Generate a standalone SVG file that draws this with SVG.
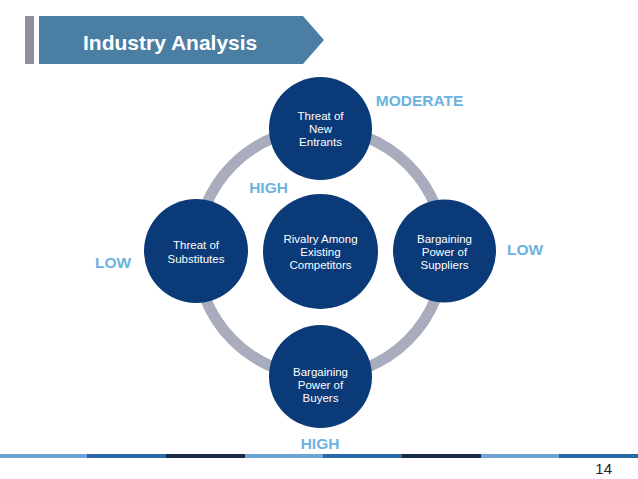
<svg xmlns="http://www.w3.org/2000/svg" width="638" height="479" viewBox="0 0 638 479">
<style>
.node{fill:#0b3a78}
.nt{fill:#ffffff;font-family:"Liberation Sans",Arial,sans-serif;font-size:11.5px;text-anchor:middle}
.lbl{fill:#6cb2df;font-family:"Liberation Sans",Arial,sans-serif;font-size:15.5px;font-weight:bold;text-anchor:middle}
</style>
<rect width="638" height="479" fill="#ffffff"/>
<g id="header">
<rect x="25" y="16" width="9" height="48" fill="#8b9099"/>
<polygon points="39,16 303,16 324,40 303,64 39,64" fill="#4a7ea3"/>
<text x="83" y="49.5" fill="#ffffff" font-family="'Liberation Sans',Arial,sans-serif" font-size="21" font-weight="bold">Industry Analysis</text>
</g>
<g id="connectors">
<circle cx="320.5" cy="252.5" r="124" fill="none" stroke="#a9acbd" stroke-width="11"/>
</g>
<g id="new-entrants">
<circle class="node" cx="320.5" cy="128.5" r="51.5"/>
<text class="nt" x="320.5" y="120">Threat of</text>
<text class="nt" x="320.5" y="133">New</text>
<text class="nt" x="320.5" y="146">Entrants</text>
</g>
<g id="substitutes">
<circle class="node" cx="196" cy="251" r="52"/>
<text class="nt" x="196" y="249">Threat of</text>
<text class="nt" x="196" y="263">Substitutes</text>
</g>
<g id="rivalry">
<circle class="node" cx="320.5" cy="251.5" r="57.5"/>
<text class="nt" x="320.5" y="243">Rivalry Among</text>
<text class="nt" x="320.5" y="256">Existing</text>
<text class="nt" x="320.5" y="269">Competitors</text>
</g>
<g id="suppliers">
<circle class="node" cx="444.5" cy="251" r="51.5"/>
<text class="nt" x="444.5" y="243">Bargaining</text>
<text class="nt" x="444.5" y="256">Power of</text>
<text class="nt" x="444.5" y="269">Suppliers</text>
</g>
<g id="buyers">
<circle class="node" cx="320.5" cy="376.5" r="51.5"/>
<text class="nt" x="320.5" y="376">Bargaining</text>
<text class="nt" x="320.5" y="389">Power of</text>
<text class="nt" x="320.5" y="402">Buyers</text>
</g>
<g id="labels">
<text class="lbl" x="419.5" y="105.5">MODERATE</text>
<text class="lbl" x="268.5" y="192.5">HIGH</text>
<text class="lbl" x="113" y="267.5">LOW</text>
<text class="lbl" x="525" y="254.5">LOW</text>
<text class="lbl" x="320" y="448.5">HIGH</text>
</g>
<g id="footer">
<rect x="0" y="454" width="87" height="4" fill="#6fa5d6"/>
<rect x="87" y="454" width="79" height="4" fill="#2a6aa8"/>
<rect x="166" y="454" width="79" height="4" fill="#1a2c45"/>
<rect x="245" y="454" width="78" height="4" fill="#6fa5d6"/>
<rect x="323" y="454" width="79" height="4" fill="#2a6aa8"/>
<rect x="402" y="454" width="79" height="4" fill="#1a2c45"/>
<rect x="481" y="454" width="78" height="4" fill="#6fa5d6"/>
<rect x="559" y="454" width="79" height="4" fill="#2a6aa8"/>
<text x="612" y="474" fill="#222222" font-family="'Liberation Sans',Arial,sans-serif" font-size="15" text-anchor="end">14</text>
</g>
</svg>
